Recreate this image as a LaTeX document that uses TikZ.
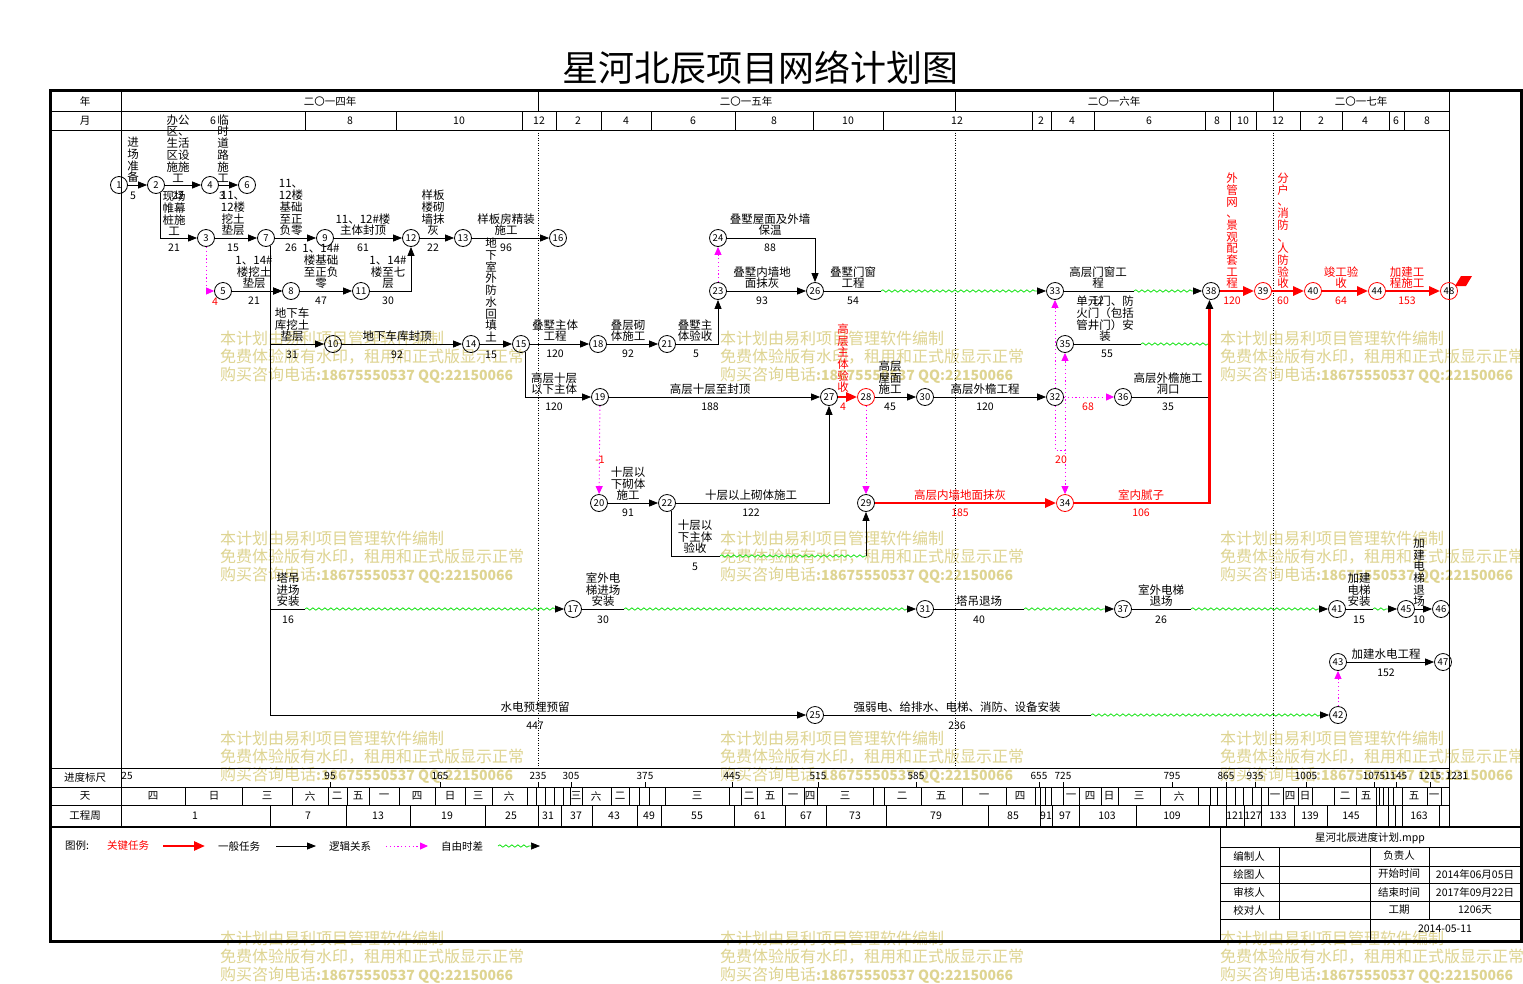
\documentclass[tikz,border=0pt]{standalone}
\usepackage{fontspec}
\newfontfamily\cjk{Noto Sans CJK SC}
\usetikzlibrary{arrows.meta,decorations.pathmorphing}
\definecolor{wmcol}{RGB}{222,212,145}
\definecolor{magc}{RGB}{255,0,255}
\definecolor{grnc}{RGB}{0,225,0}
\begin{document}
\begin{tikzpicture}[x=1pt,y=-1pt,
  ev/.style={circle,draw,line width=0.8pt,minimum size=17pt,inner sep=0pt,font=\cjk\fontsize{9.5}{10}\selectfont},
  evr/.style={ev,draw=red},
  lbl/.style={font=\cjk\fontsize{11.5}{11.7}\selectfont,align=center,inner sep=0pt,anchor=south},
  lblr/.style={lbl,text=red},
  dur/.style={font=\cjk\fontsize{10.5}{11}\selectfont,inner sep=0pt},
  durr/.style={dur,text=red},
  hdr/.style={font=\cjk\fontsize{10.5}{11}\selectfont,inner sep=0pt},
  gline/.style={line width=0.8pt},
  gl/.style={line width=0.8pt},
  ga/.style={gl,-{Triangle[length=9pt,width=7pt]}},
  critarr/.style={line width=2.6pt,red,-{Triangle[length=11pt,width=9pt]}},
  dotl/.style={magc,line width=0.9pt,dash pattern=on 1.2pt off 2.6pt,-{Triangle[length=8pt,width=7pt]}},
  wavy/.style={grnc,line width=0.7pt,decorate,decoration={snake,amplitude=1.2pt,segment length=6pt}},
  wavya/.style={grnc,line width=0.7pt,decorate,decoration={snake,amplitude=1.2pt,segment length=6pt,post length=9pt},-{Triangle[length=9pt,width=7pt,color=black]}},
  wmk/.style={font=\cjk\fontsize{16}{18}\selectfont,text=wmcol,align=left,inner sep=0pt,anchor=north west}
]
\useasboundingbox (0,0) rectangle (1523,983);
\fill[white] (0,0) rectangle (1523,983);

% watermarks (behind)
\foreach \x in {220,720,1220}
  \foreach \y in {331,531,731,931}
    \node[wmk] (wm-\x-\y) at (\x,\y) {本计划由易利项目管理软件编制\\免费体验版有水印，租用和正式版显示正常\\购买咨询电话{\fontsize{14}{18}\selectfont\bfseries :18675550537 QQ:22150066}};

% title
\node[font=\cjk\fontsize{36}{40}\selectfont,inner sep=0pt] (title) at (760,68) {星河北辰项目网络计划图};

% frame and grid
\draw[line width=3pt] (50,90) rectangle (1521,941);
\draw[gline] (50,111) -- (1449,111);
\draw[gline] (50,130) -- (1449,130);
\draw[gline] (50,768) -- (1449,768);
\draw[gline] (50,787) -- (1449,787);
\draw[gline] (50,805) -- (1449,805);
\draw[line width=2pt] (50,827) -- (1521,827);
\draw[gline] (121,90) -- (121,827);
\draw[gline] (1449,90) -- (1449,827);
\foreach \x in {538,955,1273} \draw[gline] (\x,90) -- (\x,111);
\foreach \x in {538,955,1273} \draw[line width=0.7pt,dash pattern=on 1pt off 1.5pt] (\x,130) -- (\x,768);
\foreach \x in {305,396,522,556,601,651,735,813,883,1032,1051,1094,1205,1230,1256,1300,1342,1389,1404} \draw[gline] (\x,111) -- (\x,130);

\node[hdr] (hy) at (85,101) {年};
\node[hdr] (hm) at (85,121) {月};
\node[hdr] (hs) at (85,777) {进度标尺};
\node[hdr] (hd) at (85,796) {天};
\node[hdr] (hw) at (85,816) {工程周};
\node[hdr] (y14) at (330,101) {二〇一四年};
\node[hdr] (y15) at (746,101) {二〇一五年};
\node[hdr] (y16) at (1114,101) {二〇一六年};
\node[hdr] (y17) at (1361,101) {二〇一七年};
\foreach \x/\t in {213/6,350/8,459/10,539/12,578/2,626/4,693/6,774/8,848/10,957/12,1041/2,1072/4,1149/6,1217/8,1243/10,1278/12,1321/2,1365/4,1396/6,1427/8}
  \node[hdr] (mo-\x) at (\x,121) {\t};

% progress scale
\foreach \x/\t in {127/25,330/95,440/165,538/235,571/305,645/375,732/445,818/515,916/585,1039/655,1063/725,1172/795,1226/865,1255/935,1306/1005,1374/1075,1396/1145,1430/1215,1457/1231}
  {\node[font=\cjk\fontsize{10}{10}\selectfont,inner sep=0pt] (sc-\x) at (\x,776) {\t};}
\foreach \x in {330,440,538,571,645,732,818,916,1039,1063,1172,1226,1255,1306,1374,1396,1430}
  \draw[gline] (\x,782) -- (\x,787);

% day row
\foreach \x in {185,242,292,328,347,369,399,435,465,492,527,536,545,554,563,570,582,611,629,639,649,665,729,741,757,782,804,817,873,884,921,962,1006,1035,1040,1045,1051,1063,1079,1101,1118,1160,1198,1210,1217,1226,1235,1243,1252,1261,1268,1283,1298,1312,1334,1356,1376,1379,1383,1388,1393,1402,1427,1441}
  \draw[gline] (\x,787) -- (\x,805);
\foreach \x/\t in {153/四,214/日,267/三,310/六,337/二,358/五,384/一,417/四,450/日,478/三,509/六,576/三,596/六,620/二,697/三,749/二,770/五,793/一,810/四,845/三,902/二,941/五,984/一,1020/四,1071/一,1090/四,1109/日,1139/三,1179/六,1275/一,1290/四,1305/日,1345/二,1366/五,1414/五,1434/一}
  \node[hdr] (dy-\x) at (\x,796) {\t};

% week row
\foreach \x in {270,346,410,485,538,561,592,637,661,734,785,826,886,988,1040,1052,1079,1136,1209,1226,1244,1261,1294,1327,1376,1388,1395,1402,1439}
  \draw[gline] (\x,805) -- (\x,827);
\foreach \x/\t in {195/1,308/7,378/13,447/19,511/25,548/31,576/37,614/43,649/49,697/55,760/61,806/67,855/73,936/79,1013/85,1046/91,1065/97,1107/103,1172/109,1235/121,1253/127,1278/133,1310/139,1351/145,1419/163}
  \node[hdr] (wk-\x) at (\x,816) {\t};

% info table
\draw[gline] (1220,827) -- (1220,941);
\foreach \y in {847,866,883,901,919} \draw[gline] (1220,\y) -- (1521,\y);
\draw[gline] (1279,847) -- (1279,919);
\draw[gline] (1370,847) -- (1370,941);
\draw[gline] (1429,847) -- (1429,919);
\node[hdr] (it0) at (1370,838) {星河北辰进度计划.mpp};
\node[hdr] (it1) at (1249,856) {编制人};
\node[hdr] (it2) at (1249,874) {绘图人};
\node[hdr] (it3) at (1249,892) {审核人};
\node[hdr] (it4) at (1249,910) {校对人};
\node[hdr] (it5) at (1399,856) {负责人};
\node[hdr] (it6) at (1399,874) {开始时间};
\node[hdr] (it7) at (1399,892) {结束时间};
\node[hdr] (it8) at (1399,910) {工期};
\node[hdr] (it9) at (1475,874) {2014年06月05日};
\node[hdr] (it10) at (1475,892) {2017年09月22日};
\node[hdr] (it11) at (1475,910) {1206天};
\node[hdr] (it12) at (1445,929) {2014-05-11};

% legend
\node[hdr] (lg0) at (77,846) {图例:};
\node[hdr,text=red] (lg1) at (128,846) {关键任务};
\coordinate (lga1) at (163,846); \coordinate (lgb1) at (205,846);
\draw[critarr] (lga1) -- (lgb1);
\node[hdr] (lg2) at (239,846) {一般任务};
\coordinate (lga2) at (276,846); \coordinate (lgb2) at (316,846);
\draw[ga] (lga2) -- (lgb2);
\node[hdr] (lg3) at (350,846) {逻辑关系};
\coordinate (lga3) at (386,846); \coordinate (lgb3) at (428,846);
\draw[dotl] (lga3) -- (lgb3);
\node[hdr] (lg4) at (462,846) {自由时差};
\coordinate (lga4) at (498,846); \coordinate (lgb4) at (540,846);
\draw[wavya] (lga4) -- (lgb4);

% event nodes
\node[ev] (n1) at (119,185) {1};
\node[ev] (n2) at (156,185) {2};
\node[ev] (n4) at (210,185) {4};
\node[ev] (n6) at (247,185) {6};
\node[ev] (n3) at (206,238) {3};
\node[ev] (n7) at (266,238) {7};
\node[ev] (n9) at (325,238) {9};
\node[ev] (n12) at (411,238) {12};
\node[ev] (n13) at (463,238) {13};
\node[ev] (n16) at (558,238) {16};
\node[ev] (n5) at (223,291) {5};
\node[ev] (n8) at (291,291) {8};
\node[ev] (n11) at (361,291) {11};
\node[ev] (n10) at (333,344) {10};
\node[ev] (n14) at (471,344) {14};
\node[ev] (n15) at (521,344) {15};
\node[ev] (n18) at (598,344) {18};
\node[ev] (n21) at (667,344) {21};
\node[ev] (n23) at (718,291) {23};
\node[ev] (n24) at (718,238) {24};
\node[ev] (n26) at (815,291) {26};
\node[ev] (n19) at (600,397) {19};
\node[ev] (n20) at (599,503) {20};
\node[ev] (n22) at (667,503) {22};
\node[ev] (n27) at (829,397) {27};
\node[evr] (n28) at (866,397) {28};
\node[ev] (n29) at (866,503) {29};
\node[ev] (n30) at (925,397) {30};
\node[ev] (n32) at (1055,397) {32};
\node[ev] (n33) at (1055,291) {33};
\node[ev] (n35) at (1065,344) {35};
\node[ev] (n36) at (1123,397) {36};
\node[evr] (n34) at (1065,503) {34};
\node[ev] (n38) at (1211,291) {38};
\node[evr] (n39) at (1263,291) {39};
\node[evr] (n40) at (1313,291) {40};
\node[evr] (n44) at (1377,291) {44};
\node[evr] (n48) at (1449,291) {48};
\node[ev] (n17) at (573,609) {17};
\node[ev] (n31) at (925,609) {31};
\node[ev] (n37) at (1123,609) {37};
\node[ev] (n41) at (1337,609) {41};
\node[ev] (n45) at (1406,609) {45};
\node[ev] (n46) at (1441,609) {46};
\node[ev] (n43) at (1338,662) {43};
\node[ev] (n47) at (1443,662) {47};
\node[ev] (n25) at (815,715) {25};
\node[ev] (n42) at (1338,715) {42};
\fill[red] (1455,286) -- (1461,276) -- (1472,276) -- (1466,286) -- cycle;

% helper coordinates
\coordinate (s26) at (881,291);
\coordinate (s33) at (1134,291);
\coordinate (s35) at (1141,344);
\coordinate (j35) at (1209.5,344);
\coordinate (j36) at (1209.5,397);
\coordinate (k34) at (1065,450);
\coordinate (s22a) at (720,556);
\coordinate (s22b) at (866,556);
\coordinate (s7) at (305,609);
\coordinate (s17) at (624,609);
\coordinate (s31) at (1024,609);
\coordinate (s37) at (1191,609);
\coordinate (s41) at (1373,609);
\coordinate (s25) at (1091,715);

% connectors
\draw[ga] (n1) -- (n2);
\draw[ga] (n2) -- (n4);
\draw[ga] (n4) -- (n6);
\draw[ga] (n2.-60) |- (n3);
\draw[ga] (n3) -- (n7);
\draw[ga] (n7) -- (n9);
\draw[ga] (n9) -- (n12);
\draw[ga] (n12) -- (n13);
\draw[ga] (n13) -- (n16);
\draw[dotl] (n3) |- (n5);
\draw[ga] (n5) -- (n8);
\draw[ga] (n7.-60) |- (n8);
\draw[ga] (n8) -- (n11);
\draw[ga] (n11) -| (n12);
\draw[ga] (n7.-60) |- (n10);
\draw[ga] (n10) -- (n14);
\draw[ga] (n14) -- (n15);
\draw[ga] (n15) -- (n18);
\draw[ga] (n18) -- (n21);
\draw[ga] (n21) -| (n23);
\draw[dotl] (n23) -- (n24);
\draw[ga] (n24) -| (n26);
\draw[ga] (n23) -- (n26);
\draw[gl] (n26) -- (s26); \draw[wavya] (s26) -- (n33);
\draw[gl] (n33) -- (s33); \draw[wavya] (s33) -- (n38);
\draw[gl] (n35) -- (s35); \draw[wavy] (s35) -- (j35);
\draw[ga] (n15.-60) |- (n19);
\draw[ga] (n19) -- (n27);
\draw[critarr] (n27) -- (n28);
\draw[ga] (n28) -- (n30);
\draw[ga] (n30) -- (n32);
\draw[dotl] (n32) -- (n33);
\draw[dotl] (n32) -- (n36);
\draw[dotl] (n32) |- (k34) -- (n34);
\draw[dotl] (k34) -- (n35);
\draw[gl] (n36) -- (j36);
\draw[dotl] (n19) -- (n20);
\draw[ga] (n20) -- (n22);
\draw[ga] (n22) -| (n27);
\draw[gl] (n22.-60) |- (s22a); \draw[wavy] (s22a) -- (s22b); \draw[ga] (s22b) -- (n29);
\draw[dotl] (n28) -- (n29);
\draw[critarr] (n29) -- (n34);
\draw[critarr,-{Triangle[length=9pt,width=7pt,color=black]}] (n34) -| (n38.-100);
\draw[critarr] (n38) -- (n39);
\draw[critarr] (n39) -- (n40);
\draw[critarr] (n40) -- (n44);
\draw[critarr] (n44) -- (n48);
\draw[gl] (n7.-60) |- (s7); \draw[wavya] (s7) -- (n17);
\draw[gl] (n17) -- (s17); \draw[wavya] (s17) -- (n31);
\draw[gl] (n31) -- (s31); \draw[wavya] (s31) -- (n37);
\draw[gl] (n37) -- (s37); \draw[wavya] (s37) -- (n41);
\draw[gl] (n41) -- (s41); \draw[wavya] (s41) -- (n45);
\draw[ga] (n45) -- (n46);
\draw[dotl] (n42) -- (n43);
\draw[ga] (n43) -- (n47);
\draw[ga] (n7.-60) |- (n25);
\draw[gl] (n25) -- (s25); \draw[wavya] (s25) -- (n42);

% labels row 185
\node[lbl] (L1) at (133,183) {进\\场\\准\\备};
\node[dur] (D1) at (133,196) {5};
\node[lbl] (L2) at (178,183) {办公\\区、\\生活\\区设\\施施\\工};
\node[dur] (D2) at (178,196) {22};
\node[lbl] (L3) at (223,183) {临\\时\\道\\路\\施\\工};
\node[dur] (D3) at (222,196) {3};
% row 238
\node[lbl] (L4) at (174,236) {现场\\帷幕\\桩施\\工};
\node[dur] (D4) at (174,248) {21};
\node[lbl] (L5) at (233,236) {11、\\12楼\\挖土\\垫层};
\node[dur] (D5) at (233,248) {15};
\node[lbl] (L6) at (291,236) {11、\\12楼\\基础\\至正\\负零};
\node[dur] (D6) at (291,248) {26};
\node[lbl] (L7) at (363,236) {11、12\#楼\\主体封顶};
\node[dur] (D7) at (363,248) {61};
\node[lbl] (L8) at (433,236) {样板\\楼砌\\墙抹\\灰};
\node[dur] (D8) at (433,248) {22};
\node[lbl] (L9) at (506,236) {样板房精装\\施工};
\node[dur] (D9) at (506,248) {96};
\node[lbl] (L10) at (770,236) {叠墅屋面及外墙\\保温};
\node[dur] (D10) at (770,248) {88};
% row 291
\node[durr] (D11) at (215,302) {4};
\node[lbl] (L12) at (254,289) {1、14\#\\楼挖土\\垫层};
\node[dur] (D12) at (254,301) {21};
\node[lbl] (L13) at (321,289) {1、14\#\\楼基础\\至正负\\零};
\node[dur] (D13) at (321,301) {47};
\node[lbl] (L14) at (388,289) {1、14\#\\楼至七\\层};
\node[dur] (D14) at (388,301) {30};
\node[lbl] (L15) at (762,289) {叠墅内墙地\\面抹灰};
\node[dur] (D15) at (762,301) {93};
\node[lbl] (L16) at (853,289) {叠墅门窗\\工程};
\node[dur] (D16) at (853,301) {54};
\node[lbl] (L17) at (1098,289) {高层门窗工\\程};
\node[dur] (D17) at (1098,301) {12};
\node[lblr] (L18) at (1232,289) {外\\管\\网\\、\\景\\观\\配\\套\\工\\程};
\node[durr] (D18) at (1232,301) {120};
\node[lblr] (L19) at (1283,289) {分\\户\\、\\消\\防\\、\\人\\防\\验\\收};
\node[durr] (D19) at (1283,301) {60};
\node[lblr] (L20) at (1341,289) {竣工验\\收};
\node[durr] (D20) at (1341,301) {64};
\node[lblr] (L21) at (1407,289) {加建工\\程施工};
\node[durr] (D21) at (1407,301) {153};
% row 344
\node[lbl] (L22) at (292,342) {地下车\\库挖土\\垫层};
\node[dur] (D22) at (292,355) {31};
\node[lbl] (L23) at (397,342) {地下车库封顶};
\node[dur] (D23) at (397,355) {92};
\node[lbl] (L24) at (491,342) {地\\下\\室\\外\\防\\水\\回\\填\\土};
\node[dur] (D24) at (491,355) {15};
\node[lbl] (L25) at (555,342) {叠墅主体\\工程};
\node[dur] (D25) at (555,354) {120};
\node[lbl] (L26) at (628,342) {叠层砌\\体施工};
\node[dur] (D26) at (628,354) {92};
\node[lbl] (L27) at (695,342) {叠墅主\\体验收};
\node[dur] (D27) at (696,354) {5};
\node[lbl] (L28) at (1105,342) {单元门、防\\火门（包括\\管井门）安\\装};
\node[dur] (D28) at (1107,354) {55};
% row 397
\node[lbl] (L29) at (554,395) {高层十层\\以下主体};
\node[dur] (D29) at (554,407) {120};
\node[lbl] (L30) at (710,395) {高层十层至封顶};
\node[dur] (D30) at (710,407) {188};
\node[lblr] (L31) at (843,393) {高\\层\\主\\体\\验\\收};
\node[durr] (D31) at (843,407) {4};
\node[lbl] (L32) at (890,395) {高层\\屋面\\施工};
\node[dur] (D32) at (890,407) {45};
\node[lbl] (L33) at (985,395) {高层外檐工程};
\node[dur] (D33) at (985,407) {120};
\node[durr] (D34) at (1088,407) {68};
\node[lbl] (L35) at (1168,395) {高层外檐施工\\洞口};
\node[dur] (D35) at (1168,407) {35};
\node[durr] (D36) at (600,460) {-1};
\node[durr] (D37) at (1061,460) {20};
% row 503
\node[lbl] (L38) at (628,501) {十层以\\下砌体\\施工};
\node[dur] (D38) at (628,513) {91};
\node[lbl] (L39) at (751,501) {十层以上砌体施工};
\node[dur] (D39) at (751,513) {122};
\node[lblr] (L40) at (960,501) {高层内墙地面抹灰};
\node[durr] (D40) at (960,513) {185};
\node[lblr] (L41) at (1141,501) {室内腻子};
\node[durr] (D41) at (1141,513) {106};
\node[lbl] (L42) at (695,554) {十层以\\下主体\\验收};
\node[dur] (D42) at (695,567) {5};
% row 609
\node[lbl] (L43) at (288,607) {塔吊\\进场\\安装};
\node[dur] (D43) at (288,620) {16};
\node[lbl] (L44) at (603,607) {室外电\\梯进场\\安装};
\node[dur] (D44) at (603,620) {30};
\node[lbl] (L45) at (979,607) {塔吊退场};
\node[dur] (D45) at (979,620) {40};
\node[lbl] (L46) at (1161,607) {室外电梯\\退场};
\node[dur] (D46) at (1161,620) {26};
\node[lbl] (L47) at (1359,607) {加建\\电梯\\安装};
\node[dur] (D47) at (1359,620) {15};
\node[lbl] (L48) at (1419,607) {加\\建\\电\\梯\\退\\场};
\node[dur] (D48) at (1419,620) {10};
% row 662 / 715
\node[lbl] (L49) at (1386,660) {加建水电工程};
\node[dur] (D49) at (1386,673) {152};
\node[lbl] (L50) at (535,713) {水电预埋预留};
\node[dur] (D50) at (535,726) {447};
\node[lbl] (L51) at (957,713) {强弱电、给排水、电梯、消防、设备安装};
\node[dur] (D51) at (957,726) {236};
\end{tikzpicture}
\end{document}
